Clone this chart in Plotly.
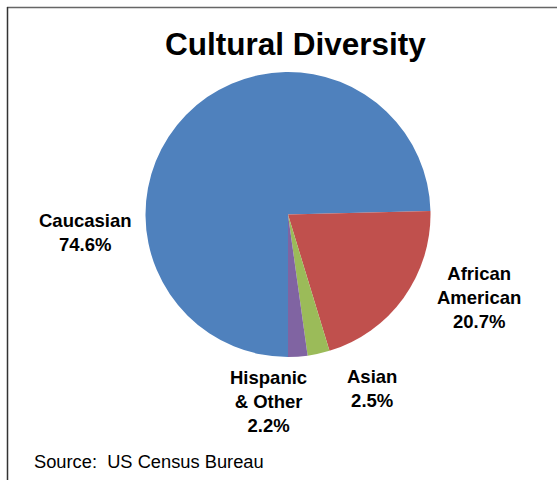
import plotly.graph_objects as go

# ---- data ----
categories = ["Caucasian", "African<br>American", "Asian", "Hispanic<br>& Other"]
values = [74.6, 20.7, 2.5, 2.2]
colors = ["#4F81BD", "#C0504D", "#9BBB59", "#8064A2"]
title_text = "Cultural Diversity"
source_text = "Source:  US Census Bureau"

# label placement (paper coords, px based on 557x480 canvas)
W, H = 557, 480
label_px = [(85, 233), (479, 297), (372, 388), (268, 401)]

FONT = "Liberation Sans, Arial, sans-serif"

fig = go.Figure(
    go.Pie(
        labels=categories,
        values=values,
        sort=False,
        direction="clockwise",
        rotation=180,
        marker=dict(colors=colors, line=dict(width=0)),
        textinfo="none",
        hoverinfo="none",
        showlegend=False,
        domain=dict(x=[145.5 / W, 430.5 / W], y=[1 - 357 / H, 1 - 72 / H]),
    )
)

annotations = []
for name, v, (px, py) in zip(categories, values, label_px):
    annotations.append(
        dict(
            text=f"<b>{name}<br>{v:.1f}%</b>",
            x=px / W, y=1 - py / H, xref="paper", yref="paper",
            xanchor="center", yanchor="middle", showarrow=False,
            font=dict(family=FONT, size=18.5, color="#000000"),
            align="center",
        )
    )
annotations.append(
    dict(
        text=f"<b>{title_text}</b>", x=295 / W, y=1 - 44 / H,
        xref="paper", yref="paper", xanchor="center", yanchor="middle",
        showarrow=False, font=dict(family=FONT, size=31.5, color="#000000"),
    )
)
annotations.append(
    dict(
        text=source_text, x=32 / W, y=1 - 461 / H,
        xref="paper", yref="paper", xanchor="left", yanchor="middle",
        showarrow=False, font=dict(family=FONT, size=18.3, color="#000000"),
    )
)

shapes = [
    dict(type="line", xref="paper", yref="paper", x0=7 / W, x1=1, y0=1 - 7.5 / H, y1=1 - 7.5 / H,
         line=dict(color="#666666", width=1.5)),
    dict(type="line", xref="paper", yref="paper", x0=7.5 / W, x1=7.5 / W, y0=0, y1=1 - 7 / H,
         line=dict(color="#333333", width=1.5)),
]

fig.update_layout(
    width=W, height=H,
    margin=dict(l=0, r=0, t=0, b=0),
    paper_bgcolor="#FFFFFF", plot_bgcolor="#FFFFFF",
    annotations=annotations, shapes=shapes,
    font=dict(family=FONT),
)

fig.write_html("out.html")
